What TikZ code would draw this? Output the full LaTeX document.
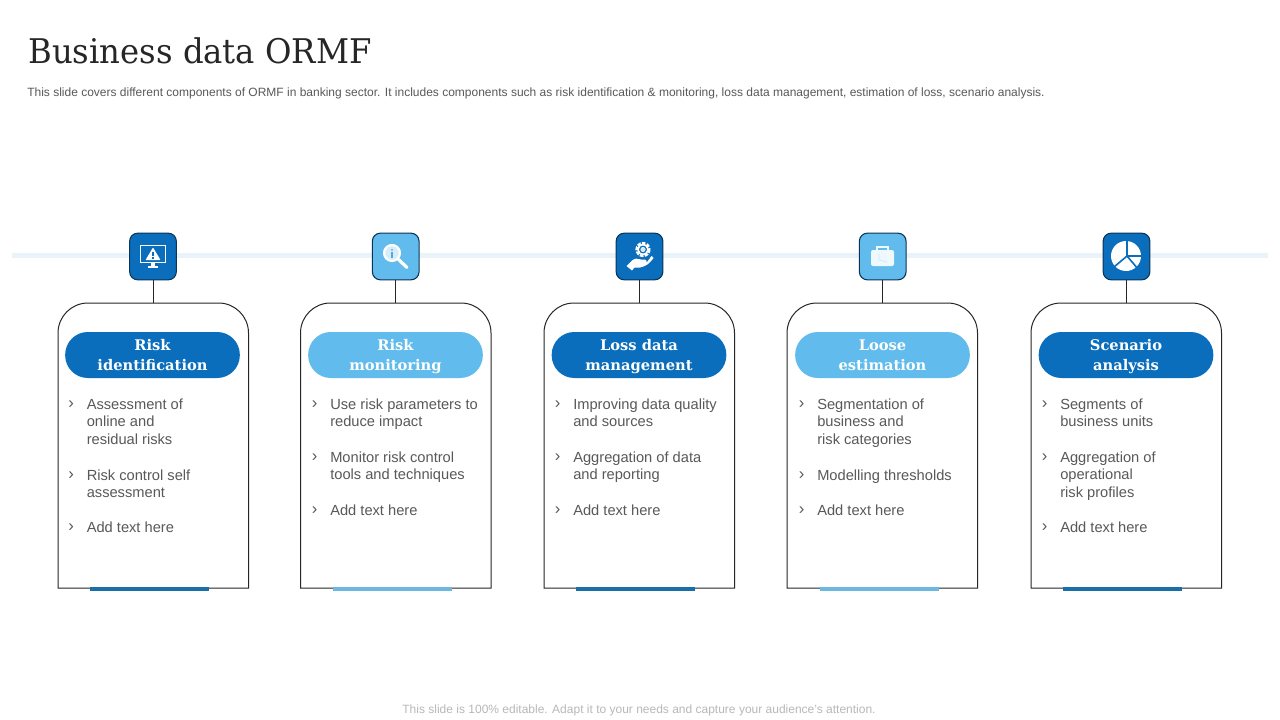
\documentclass[tikz,border=0pt]{standalone}
\usepackage{fontspec}
\setmainfont{Liberation Sans}
\newfontfamily\serifbody{DejaVu Serif}
\newfontfamily\serifnarrow[FakeStretch=0.95]{DejaVu Serif}
\definecolor{dblue}{HTML}{0A6EBD}
\definecolor{lblue}{HTML}{61BBEC}
\definecolor{dbar}{HTML}{1B6FA8}
\definecolor{lbar}{HTML}{6CB8DE}
\definecolor{rail}{HTML}{E8F3FA}
\definecolor{bodytxt}{HTML}{595959}
\definecolor{outline}{HTML}{262626}
\definecolor{navy}{HTML}{0B3555}
\tikzset{
 x=0.75pt,y=-0.75pt,
 cardline/.style={draw=outline,line width=0.75pt},
 iconbox/.style={draw=navy,line width=0.8pt,rounded corners=6pt,minimum width=35pt,minimum height=35pt,inner sep=0pt},
 pill/.style={rounded corners=17pt,minimum width=131pt,minimum height=34.5pt,inner sep=0pt,text=white,align=center,font=\serifbody\bfseries\fontsize{11}{15}\selectfont},
 item/.style={anchor=north west,inner sep=0pt,align=left,text=bodytxt,font=\fontsize{11}{13.1}\selectfont},
 chev/.style={anchor=north west,inner sep=0pt,text=bodytxt,font=\fontsize{12.5}{13.1}\selectfont},
}
\newcommand{\pilline}[1]{\raisebox{-0.8pt}[\ht\strutbox][\dp\strutbox]{#1}}
% #1 id, #2 card left, #3 pill centre x, #4 icon centre x, #5 fill, #6 bar left, #7 bar colour, #8 pill line 1, #9 pill line 2
\newcommand{\cardunit}[9]{
 \draw[cardline] (#2,588) -- (#2,333) arc[start angle=180,end angle=90,radius=22.5pt] -- ++(130.5,0) arc[start angle=90,end angle=0,radius=22.5pt] -- (#2+190.5,588) -- cycle;
 \fill[#7] (#6,587) rectangle ++(119,4);
 \node[iconbox,fill=#5] (icon#1) at (#4,256.5) {};
 \coordinate (top#1) at (#4,303);
 \draw[cardline] (icon#1.south) -- (top#1);
 \node[pill,fill=#5] (pill#1) at (#3,355) {\pilline{#8}\\\pilline{#9}};
}
% #1 name, #2 x, #3 y, #4 text
\newcommand{\bul}[4]{
 \node[chev] (ch#1) at (#2,#3+2.5) {›};
 \node[item] (it#1) at (#2+18.5,#3) {#4};
}
\begin{document}
\begin{tikzpicture}
\useasboundingbox (0,0) rectangle (1280,720);
\fill[white] (0,0) rectangle (1280,720);
\node[anchor=base west,inner sep=0pt,text=black!85,font=\serifnarrow\fontsize{25.5}{30}\selectfont] (title) at (28,64) {Business data ORMF};
\node[anchor=base west,inner sep=0pt,text=bodytxt,font=\fontsize{9}{11}\selectfont] (sub) at (27,96.8) {This slide covers different components of ORMF in banking sector. It includes components such as risk identification \& monitoring, loss data management, estimation of loss, scenario analysis.};
\node[anchor=base,inner sep=0pt,text=black!28,font=\fontsize{9}{11}\selectfont] (foot) at (639,713) {This slide is 100\% editable. Adapt it to your needs and capture your audience’s attention.};
\fill[rail] (12,253) rectangle (1268,258);

\cardunit{a}{58}{152.5}{153}{dblue}{90}{dbar}{Risk}{identification}
\cardunit{b}{300.5}{395.5}{395.7}{lblue}{332.5}{lbar}{Risk}{monitoring}
\cardunit{c}{544}{639}{639.5}{dblue}{576}{dbar}{Loss data}{management}
\cardunit{d}{787}{882.5}{882.7}{lblue}{819.5}{lbar}{Loose}{estimation}
\cardunit{e}{1031}{1126}{1126.5}{dblue}{1063}{dbar}{Scenario}{analysis}

\bul{a1}{68}{398.5}{Assessment of\\online and\\residual risks}
\bul{a2}{68}{469.5}{Risk control self\\assessment}
\bul{a3}{68}{521.5}{Add text here}
\bul{b1}{311.5}{398.5}{Use risk parameters to\\reduce impact}
\bul{b2}{311.5}{451.5}{Monitor risk control\\tools and techniques}
\bul{b3}{311.5}{504.5}{Add text here}
\bul{c1}{554.5}{398.5}{Improving data quality\\and sources}
\bul{c2}{554.5}{451.5}{Aggregation of data\\and reporting}
\bul{c3}{554.5}{504.5}{Add text here}
\bul{d1}{798.5}{398.5}{Segmentation of\\business and\\risk categories}
\bul{d2}{798.5}{469.5}{Modelling thresholds}
\bul{d3}{798.5}{504.5}{Add text here}
\bul{e1}{1041.5}{398.5}{Segments of\\business units}
\bul{e2}{1041.5}{451.5}{Aggregation of\\operational\\risk profiles}
\bul{e3}{1041.5}{521.5}{Add text here}

% icon 1: monitor with warning
\draw[white,line width=0.9pt] (140.5,245.5) rectangle (165.5,262.5);
\fill[white] (151,263) rectangle (155,265.5);
\fill[white] (148,265.5) rectangle (158,267.5);
\fill[white,rounded corners=0.5pt] (153,247.5) -- (160.5,260) -- (145.5,260) -- cycle;
\fill[dblue] (152.3,251.5) rectangle (153.7,256);
\fill[dblue] (152.3,257) rectangle (153.7,258.6);

% icon 2: magnifier
\fill[white!75!lblue] (392,253) circle[radius=8];
\draw[white,line width=1.6pt] (392,253) circle[radius=8];
\draw[white,line width=2.4pt,line cap=round] (398.5,259.5) -- (407,267.5);
\fill[lblue!75!dbar] (391,252) rectangle (393,257.5);
\fill[lblue!75!dbar] (392,249.8) circle[radius=1];

% icon 3: hand with gear
\draw[white,line width=2.4pt,densely dotted] (643,249.5) circle[radius=6];
\draw[white,line width=1.3pt] (643,249.5) circle[radius=5];
\fill[dblue] (643,249.5) circle[radius=3.7];
\fill[white!85!dblue] (643,249.5) circle[radius=2.6];
\fill[white] (626.5,266) -- (632,260.5) .. controls (635,258) and (638,258.5) .. (641,259.5) -- (645,259.5) .. controls (647.5,260) and (647,262) .. (644.5,262.3) -- (647.5,261.5) -- (651.5,256) -- (653.5,258) .. controls (650,263) and (646,266.5) .. (640,267.5) -- (634.5,267.5) -- (632,270.5) -- cycle;

% icon 4: briefcase
\draw[white,line width=1.2pt,opacity=0.9] (877,250) -- (877,247) -- (888,247) -- (888,250);
\fill[white,opacity=0.9,rounded corners=1.5pt] (871,250) rectangle (894,266);
\draw[lblue!35!white,line width=0.5pt] (879,254) -- (879,260) -- (887,262);

% icon 5: pie
\fill[white] (1126,256) circle[radius=15];
\draw[dblue,line width=1.2pt] (1127,240) -- (1127,256) -- (1142,256);
\draw[dblue,line width=1.2pt] (1127,256) -- (1138,269);
\draw[dblue,line width=1.2pt] (1127,256) -- (1114,267);
\end{tikzpicture}
\end{document}
